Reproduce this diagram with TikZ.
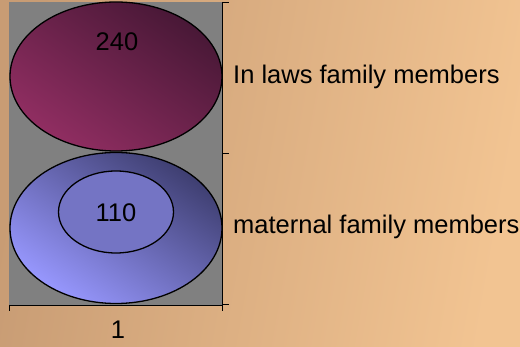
\documentclass[tikz,border=0pt]{standalone}
\usepackage{fontspec}
\setmainfont{Liberation Sans}
\usetikzlibrary{shapes.geometric}
\definecolor{bgA}{RGB}{200,156,116}
\definecolor{bgB}{RGB}{242,196,146}
\definecolor{plotgray}{RGB}{128,128,128}
\definecolor{magDark}{RGB}{72,24,54}
\definecolor{magLight}{RGB}{145,46,98}
\definecolor{bluDark}{RGB}{62,62,112}
\definecolor{bluLight}{RGB}{152,152,255}
\definecolor{bluInner}{RGB}{116,116,196}
\tikzset{
  disc/.style={ellipse, draw=black, line width=1.3pt, inner sep=0pt},
  lab/.style={font=\fontsize{25.5}{28}\selectfont, inner sep=0pt},
  axisline/.style={draw=black, line width=0.6pt}
}
\begin{document}
\begin{tikzpicture}[x=1pt,y=-1pt]
\useasboundingbox (0,0) rectangle (520,347);
\shade[left color=bgA, right color=bgB, shading angle=80] (0,0) rectangle (520,347);
\fill[plotgray] (9,2) rectangle (222,305);
% axes
\draw[axisline] (222,2) -- (222,305) -- (9,305);
\draw[axisline] (222,2) -- (229,2);
\draw[axisline] (222,153) -- (229,153);
\draw[axisline] (222,304) -- (229,304);
\draw[axisline] (9,305) -- (9,311);
\draw[axisline] (222,305) -- (222,311);
% discs
\node[disc, minimum width=212pt, minimum height=149pt, top color=magDark, bottom color=magLight, shading angle=-35] (top) at (116,76.5) {};
\node[disc, minimum width=212pt, minimum height=151pt, top color=bluDark, bottom color=bluLight, shading angle=-35] (bot) at (116,228) {};
\node[disc, fill=bluInner, minimum width=115pt, minimum height=82pt] (inner) at (116,212) {};
\node[lab] (v240) at (117,42) {240};
\node[lab] (v110) at (116,213) {110};
\node[lab] (x1) at (118,330) {1};
\node[lab, anchor=west] (l1) at (233,77) {In laws family members};
\node[lab, anchor=west] (l2) at (233,227) {maternal family members};
\end{tikzpicture}
\end{document}
